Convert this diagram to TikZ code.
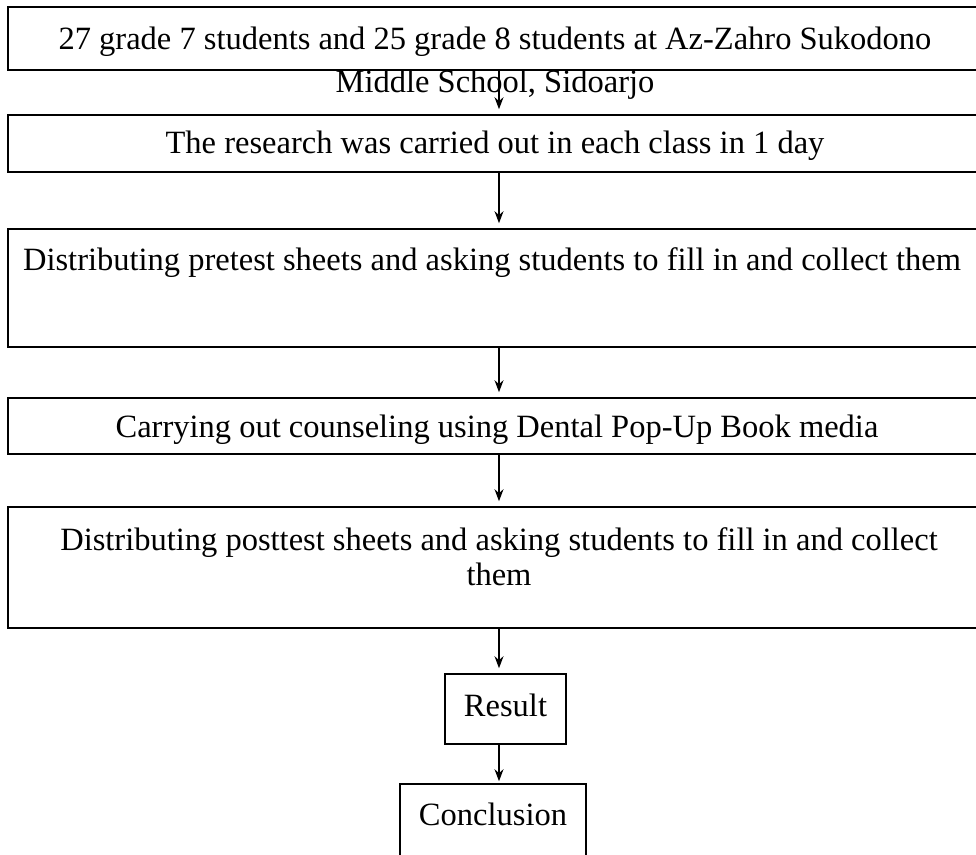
\documentclass[tikz,border=0pt]{standalone}
\usepackage{fontspec}
\setmainfont{Liberation Serif}
\usetikzlibrary{arrows.meta}
\tikzstyle{stage}=[draw, line width=1.6pt, inner sep=0pt, minimum width=982pt]
\tikzstyle{small}=[draw, line width=1.6pt, inner sep=0pt]
\tikzstyle{words}=[align=center, inner sep=0pt, font=\fontsize{32.5}{35}\selectfont]
\tikzstyle{flow}=[-{Stealth[length=12pt, width=9pt]}, line width=1.3pt, shorten >=5pt]

\begin{document}
\begin{tikzpicture}[x=1pt, y=-1pt]
                    \useasboundingbox (0,0) rectangle (976,854);
                    \node[stage, minimum height=63pt]  (s1) at (499, 38.5) {};
                    \node[stage, minimum height=57pt]  (s2) at (499, 143.5) {};
                    \node[stage, minimum height=118pt] (s3) at (499, 288) {};
                    \node[stage, minimum height=56pt]  (s4) at (499, 426) {};
                    \node[stage, minimum height=121pt] (s5) at (499, 567.5) {};
                    \node[small, minimum width=121pt, minimum height=70pt] (r) at (505.5, 709) {};
                    \node[small, minimum width=186pt, minimum height=116pt] (c) at (493, 842) {};
                    \node[words, font=\fontsize{32.5}{43}\selectfont] (t1) at (495, 63)
                        {27 grade 7 students and 25 grade 8 students at Az-Zahro Sukodono\\Middle School, Sidoarjo};
                    \node[words] (t2) at (495, 146) {The research was carried out in each class in 1 day};
                    \node[words] (t3) at (492, 263) {Distributing pretest sheets and asking students to fill in and collect them};
                    \node[words] (t4) at (497, 430) {Carrying out counseling using Dental Pop-Up Book media};
                    \node[words] (t5) at (499, 557) {Distributing posttest sheets and asking students to fill in and collect\\them};
                    \node[words] (tr) at (505.5, 705) {Result};
                    \node[words] (tc) at (493, 814) {Conclusion};
                    \draw[flow] (s1) -- (s2);
                    \draw[flow] (s2) -- (s3);
                    \draw[flow] (s3) -- (s4);
                    \draw[flow] (s4) -- (s5);
                    \draw[flow] (s5.south) -- (r.north -| s5.south);
                    \draw[flow, shorten >=2pt] (r.south -| s5.south) -- (c.north -| s5.south);
                \end{tikzpicture}
\end{document}
